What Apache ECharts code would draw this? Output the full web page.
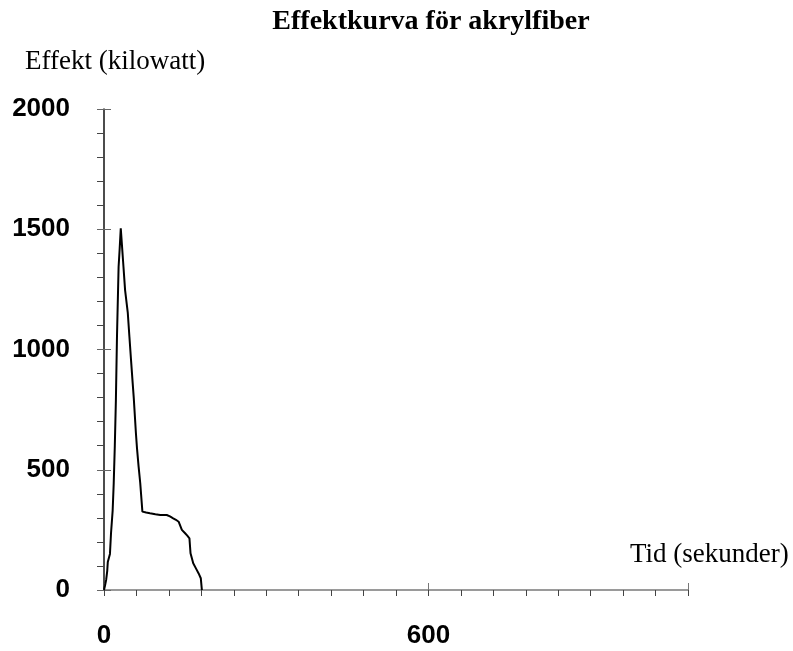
<!DOCTYPE html>
<html>
<head>
<meta charset="utf-8">
<script src="https://cdn.jsdelivr.net/npm/echarts@6/dist/echarts.min.js"></script>
<style>
  html, body { margin: 0; padding: 0; background: #fff; }
  #chart { width: 793px; height: 651px; }
</style>
</head>
<body>
<div id="chart"></div>
<script>
// tid i sekunder och effekt i kilowatt, avlästa från kurvan
const timeSec = [0, 2, 4, 6, 7, 9, 11, 13, 16, 18, 20, 22, 24, 27, 29, 31, 33, 36, 39, 44, 47, 50, 53, 55, 59, 61, 64, 67, 71, 72, 78, 85, 95, 104, 116, 122, 128, 133, 138, 144, 150, 154, 158, 160, 165, 170, 175, 179, 181];
const powerKw = [0, 20, 42, 80, 116, 111, 150, 237, 330, 445, 600, 790, 1053, 1344, 1420, 1504, 1440, 1344, 1247, 1152, 1053, 956, 861, 800, 653, 590, 513, 445, 326, 323, 322, 319, 315, 312, 312, 306, 298, 292, 284, 250, 236, 226, 215, 153, 111, 90, 69, 49, 0];
const xLabelsShown = [0, 600];
const yLabelsShown = [0, 500, 1000, 1500, 2000];

const titleText = 'Effektkurva för akrylfiber';
const yName = 'Effekt (kilowatt)';
const xName = 'Tid (sekunder)';

let myChart = echarts.init(document.getElementById('chart'));

let points = timeSec.map((t, i) => [t, powerKw[i]]);

let option = {
  backgroundColor: '#fff',
  animation: false,
  grid: {
    left: 104,
    right: 105,
    top: 109,
    bottom: 61
  },
  xAxis: [
    {
      type: 'value',
      min: 0,
      max: 1080,
      interval: 60,
      axisLine: { lineStyle: { color: '#9a9a9a', width: 2 } },
      axisTick: { length: 6, lineStyle: { color: '#444', width: 1 } },
      splitLine: { show: false },
      axisLabel: {
        margin: 33,
        color: '#000',
        fontFamily: 'Liberation Sans',
        fontWeight: 'bold',
        fontSize: 26,
        formatter: v => xLabelsShown.includes(v) ? String(v) : ''
      }
    },
    {
      // korta streck uppåt vid 600
      type: 'value',
      min: 0,
      max: 1080,
      interval: 600,
      position: 'bottom',
      axisLine: { show: false },
      axisTick: { inside: true, length: 7, lineStyle: { color: '#777', width: 1 } },
      axisLabel: { show: false },
      splitLine: { show: false }
    }
  ],
  yAxis: [
    {
      type: 'value',
      min: 0,
      max: 2000,
      interval: 500,
      axisLine: { show: true, lineStyle: { color: '#111', width: 1.5 } },
      axisTick: { show: true, length: 7, lineStyle: { color: '#666', width: 1 } },
      minorTick: { show: true, splitNumber: 5, length: 7, lineStyle: { color: '#444', width: 1 } },
      splitLine: { show: false },
      axisLabel: {
        margin: 34,
        color: '#000',
        fontFamily: 'Liberation Sans',
        fontWeight: 'bold',
        fontSize: 26,
        formatter: v => yLabelsShown.includes(v) ? String(v) : ''
      }
    },
    {
      type: 'value',
      min: 0,
      max: 2000,
      interval: 500,
      position: 'left',
      axisLine: { show: false },
      axisTick: { show: true, inside: true, length: 7, lineStyle: { color: '#666', width: 1 } },
      axisLabel: { show: false },
      splitLine: { show: false }
    }
  ],
  graphic: [
    {
      type: 'text',
      x: 431,
      y: 22,
      style: {
        text: titleText,
        font: 'bold 28px "Liberation Serif"',
        fill: '#000',
        textAlign: 'center',
        textVerticalAlign: 'middle'
      }
    },
    {
      type: 'text',
      x: 25,
      y: 62,
      style: {
        text: yName,
        font: '27px "Liberation Serif"',
        fill: '#000',
        textAlign: 'left',
        textVerticalAlign: 'middle'
      }
    },
    {
      type: 'text',
      x: 630,
      y: 555,
      style: {
        text: xName,
        font: '27px "Liberation Serif"',
        fill: '#000',
        textAlign: 'left',
        textVerticalAlign: 'middle'
      }
    }
  ],
  series: [
    {
      name: 'Effekt',
      type: 'line',
      data: points,
      showSymbol: false,
      smooth: false,
      lineStyle: { color: '#000', width: 2 }
    }
  ]
};

option && myChart.setOption(option);
</script>
</body>
</html>
